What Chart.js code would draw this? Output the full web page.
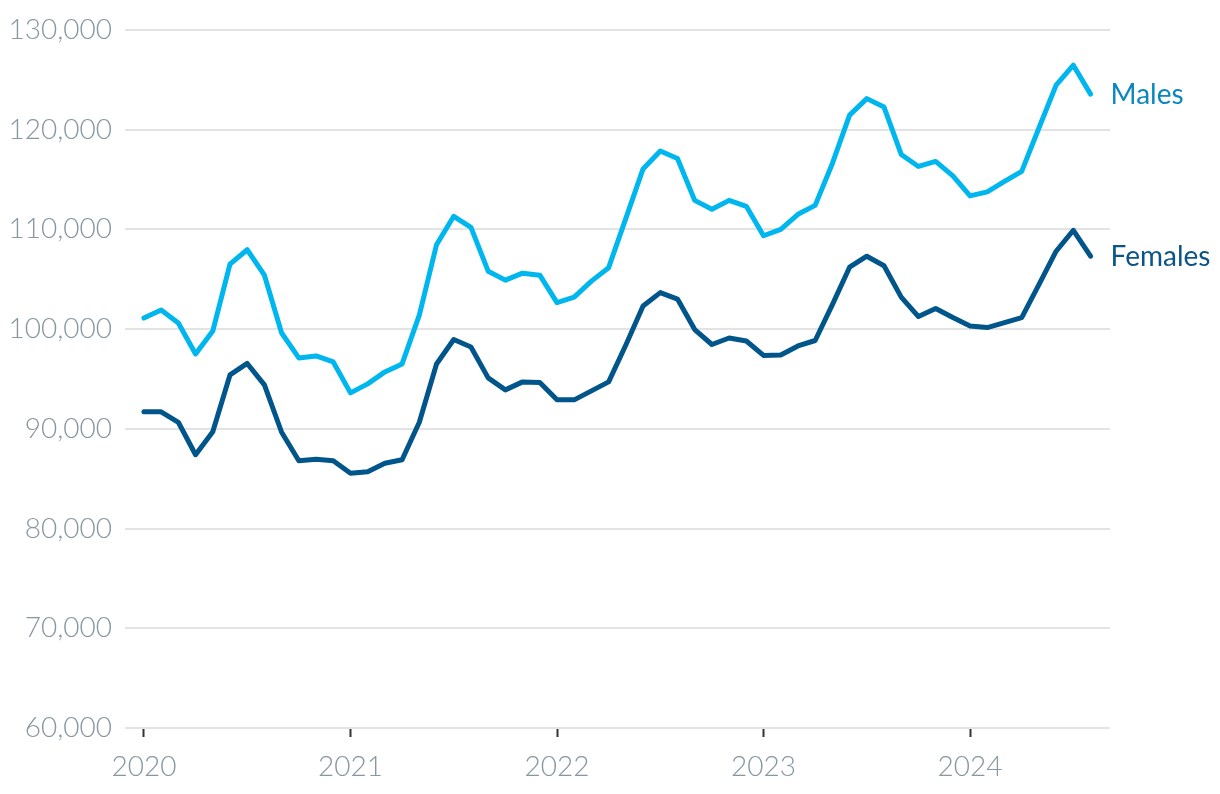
<!DOCTYPE html>
<html>
<head>
<meta charset="utf-8">
<script src="https://cdn.jsdelivr.net/npm/chart.js@4/dist/chart.umd.min.js"></script>
<style>
  html, body { margin: 0; padding: 0; background: #ffffff; }
  #wrap { width: 1220px; height: 794px; position: relative; }
</style>
</head>
<body>
<div id="wrap"><canvas id="c" width="1220" height="794"></canvas></div>
<script>
// Monthly series, Jan 2020 – Aug 2024
const months = [
  '2020-01','2020-02','2020-03','2020-04','2020-05','2020-06','2020-07','2020-08','2020-09','2020-10','2020-11','2020-12',
  '2021-01','2021-02','2021-03','2021-04','2021-05','2021-06','2021-07','2021-08','2021-09','2021-10','2021-11','2021-12',
  '2022-01','2022-02','2022-03','2022-04','2022-05','2022-06','2022-07','2022-08','2022-09','2022-10','2022-11','2022-12',
  '2023-01','2023-02','2023-03','2023-04','2023-05','2023-06','2023-07','2023-08','2023-09','2023-10','2023-11','2023-12',
  '2024-01','2024-02','2024-03','2024-04','2024-05','2024-06','2024-07','2024-08'
];
const males = [
  101100, 101900, 100600, 97500, 99800, 106500, 107950, 105400, 99600, 97100, 97300, 96700,
  93600, 94500, 95700, 96500, 101400, 108450, 111300, 110200, 105800, 104900, 105600, 105400,
  102650, 103200, 104800, 106150, 111100, 116050, 117850, 117100, 112900, 112000, 112900, 112300,
  109350, 110000, 111500, 112400, 116600, 121450, 123100, 122250, 117500, 116300, 116800, 115350,
  113350, 113750, 114800, 115800, 120150, 124450, 126450, 123550
];
const females = [
  91700, 91700, 90650, 87400, 89700, 95400, 96550, 94400, 89650, 86800, 86950, 86800,
  85550, 85700, 86550, 86900, 90650, 96500, 98950, 98200, 95100, 93900, 94700, 94650,
  92900, 92900, 93800, 94700, 98400, 102300, 103650, 103000, 99950, 98450, 99100, 98800,
  97350, 97400, 98300, 98850, 102450, 106200, 107300, 106350, 103200, 101250, 102050, 101150,
  100300, 100150, 100650, 101150, 104450, 107800, 109900, 107300
];
const yearTicks = ['2020', '2021', '2022', '2023', '2024'];
const seriesNames = ['Males', 'Females'];

const toPoints = arr => arr.map((v, i) => ({ x: i, y: v }));

const endLabels = {
  id: 'endLabels',
  afterDatasetsDraw(chart) {
    const ctx = chart.ctx;
    ctx.save();
    ctx.font = '400 28px Lato, "Open Sans", sans-serif';
    ctx.textBaseline = 'middle';
    ctx.textAlign = 'left';
    chart.data.datasets.forEach((ds, i) => {
      const meta = chart.getDatasetMeta(i);
      const last = meta.data[meta.data.length - 1];
      ctx.fillStyle = ds.labelColor;
      ctx.fillText(ds.label, last.x + 20, last.y + 1);
    });
    ctx.restore();
  }
};

new Chart(document.getElementById('c'), {
  type: 'line',
  data: {
    datasets: [
      {
        label: seriesNames[0],
        data: toPoints(males),
        borderColor: '#00b6ee',
        labelColor: '#0a86c0',
        borderWidth: 5,
        pointRadius: 0,
        tension: 0,
        borderJoinStyle: 'round',
        borderCapStyle: 'round'
      },
      {
        label: seriesNames[1],
        data: toPoints(females),
        borderColor: '#00558a',
        labelColor: '#0b5487',
        borderWidth: 5,
        pointRadius: 0,
        tension: 0,
        borderJoinStyle: 'round',
        borderCapStyle: 'round'
      }
    ]
  },
  options: {
    responsive: false,
    animation: false,
    layout: { padding: { top: 28, right: 110, left: 0, bottom: 0 } },
    plugins: {
      legend: { display: false },
      tooltip: { enabled: false }
    },
    scales: {
      x: {
        type: 'linear',
        min: -1.1,
        max: 56.13,
        afterBuildTicks: scale => {
          scale.ticks = yearTicks.map((_, i) => ({ value: i * 12 }));
        },
        afterFit: scale => { scale.height = 66; },
        ticks: {
          callback: (v) => yearTicks[Math.round(v / 12)],
          color: '#8797a0',
          font: { family: 'Lato', weight: 300, size: 28 },
          padding: 13,
          maxRotation: 0,
          autoSkip: false
        },
        grid: {
          drawOnChartArea: false,
          drawTicks: true,
          tickLength: 9,
          tickWidth: 2,
          tickColor: '#333333',
          color: '#333333'
        },
        border: { display: false }
      },
      y: {
        min: 60000,
        max: 130000,
        afterFit: scale => { scale.width = 125; },
        ticks: {
          stepSize: 10000,
          color: '#8797a0',
          font: { family: 'Lato', weight: 300, size: 28 },
          padding: 13,
          callback: v => v.toLocaleString('en-US')
        },
        grid: {
          color: '#e3e3e3',
          lineWidth: 2,
          drawTicks: false
        },
        border: { display: false }
      }
    }
  },
  plugins: [endLabels]
});
</script>
</body>
</html>
